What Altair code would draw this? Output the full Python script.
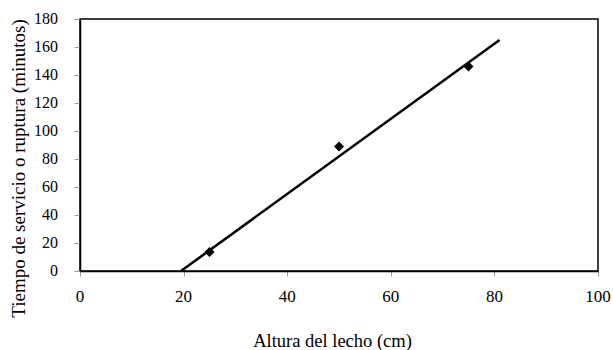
import altair as alt
import pandas as pd

# measured points
altura = [25, 50, 75]
tiempo = [13.5, 89, 146]

# fitted straight line endpoints
linea_x = [19.5, 81]
linea_y = [0, 165]

x_ticks = [0, 20, 40, 60, 80, 100]
y_ticks = [0, 20, 40, 60, 80, 100, 120, 140, 160, 180]

pts = pd.DataFrame({"x": altura, "y": tiempo})
ln = pd.DataFrame({"x": linea_x, "y": linea_y})
xlab = pd.DataFrame({"v": x_ticks, "t": [str(v) for v in x_ticks]})
ylab = pd.DataFrame({"v": y_ticks, "t": [str(v) for v in y_ticks]})

FONT = "Liberation Serif"
xs = alt.Scale(domain=[0, 100], nice=False)
ys = alt.Scale(domain=[0, 180], nice=False)

common = dict(grid=False, domainColor="black", domainWidth=1.5, labels=False,
              titleColor="black", titleFontWeight="normal", titleFont=FONT)

xaxis = alt.Axis(title="Altura del lecho (cm)", values=x_ticks, tickSize=5, tickColor="#999",
                 titleX=252, titleY=69, titleBaseline="middle", titleFontSize=18.5, **common)
yaxis = alt.Axis(title="Tiempo de servicio o ruptura (minutos)", values=y_ticks, tickSize=6, tickColor="#999",
                 titleX=-62, titleY=149, titleAngle=-90, titleBaseline="middle",
                 titleAlign="center", titleFontSize=19, **common)

line = alt.Chart(ln).mark_line(color="black", strokeWidth=2.5).encode(
    x=alt.X("x:Q", scale=xs, axis=xaxis),
    y=alt.Y("y:Q", scale=ys, axis=yaxis),
)
points = alt.Chart(pts).mark_point(shape="diamond", filled=True, color="black", size=100, opacity=1).encode(
    x=alt.X("x:Q", scale=xs, axis=xaxis),
    y=alt.Y("y:Q", scale=ys, axis=yaxis),
)
xtext = alt.Chart(xlab).mark_text(font=FONT, fontSize=17, color="black", align="center", baseline="middle").encode(
    x=alt.X("v:Q", scale=xs, axis=xaxis),
    y=alt.value(278),
    text="t:N",
)
ytext = alt.Chart(ylab).mark_text(font=FONT, fontSize=16, color="black", align="right", baseline="middle").encode(
    x=alt.value(-22),
    y=alt.Y("v:Q", scale=ys, axis=yaxis),
    text="t:N",
)

chart = alt.layer(line, points, xtext, ytext).properties(
    width=518, height=252,
    autosize=alt.AutoSizeParams(type="none"),
    padding={"left": 80, "top": 19, "right": 15, "bottom": 79},
    background="white",
).configure(
    font=FONT,
).configure_view(
    stroke="black", strokeWidth=1.5,
)

chart.save("out.html", embed_options={"renderer": "svg", "actions": False})
